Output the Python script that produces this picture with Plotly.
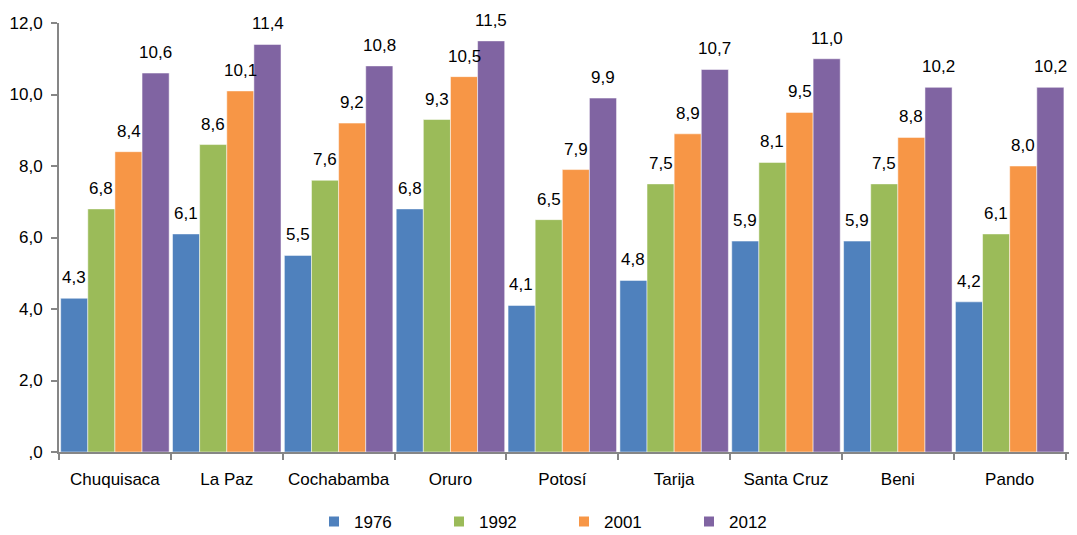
import plotly.graph_objects as go

departments = ["Chuquisaca", "La Paz", "Cochabamba", "Oruro", "Potosí", "Tarija", "Santa Cruz", "Beni", "Pando"]
v1976 = [4.3, 6.1, 5.5, 6.8, 4.1, 4.8, 5.9, 5.9, 4.2]
v1992 = [6.8, 8.6, 7.6, 9.3, 6.5, 7.5, 8.1, 7.5, 6.1]
v2001 = [8.4, 10.1, 9.2, 10.5, 7.9, 8.9, 9.5, 8.8, 8.0]
v2012 = [10.6, 11.4, 10.8, 11.5, 9.9, 10.7, 11.0, 10.2, 10.2]
years = ["1976", "1992", "2001", "2012"]
colors = ["#4F81BD", "#9BBB59", "#F79646", "#8064A2"]
ytickvals = [0, 2, 4, 6, 8, 10, 12]
yticktext = [",0", "2,0", "4,0", "6,0", "8,0", "10,0", "12,0"]

font = "Liberation Sans, Arial, sans-serif"
W, H = 1061, 527
ML, MR, MT, MB = 51, 0, 15, 83
BARGAP = 0.03
series = [v1976, v1992, v2001, v2012]

fig = go.Figure()
for name, vals, col in zip(years, series, colors):
    fig.add_trace(go.Bar(
        x=departments, y=vals, name=name,
        marker=dict(color=col, line=dict(color="white", width=0.5)),
        hoverinfo="x+y+name",
    ))

# value labels above each bar
plot_w = W - ML - MR
bar_px = plot_w / len(departments) * (1 - BARGAP) / len(series)
for i, vals in enumerate(series):
    off = (i - (len(series) - 1) / 2) * bar_px
    for d, v in zip(departments, vals):
        fig.add_annotation(x=d, y=v, text=f"{v:.1f}".replace(".", ","),
                           showarrow=False, xshift=off, yanchor="bottom", yshift=9,
                           font=dict(size=17, color="black", family=font))

fig.update_layout(
    width=W, height=H,
    barmode="group", bargap=BARGAP, bargroupgap=0,
    plot_bgcolor="white", paper_bgcolor="white",
    margin=dict(l=ML, r=MR, t=MT, b=MB, autoexpand=False),
    font=dict(family=font, size=17, color="black"),
    legend=dict(orientation="h", x=0.5, xanchor="center",
                yref="container", y=0.025, yanchor="middle",
                font=dict(size=17), entrywidth=80, itemsizing="constant"),
    showlegend=True,
)
fig.update_xaxes(showline=True, linecolor="#868686", linewidth=2,
                 ticks="outside", tickcolor="#868686", ticklen=6, tickwidth=2,
                 tickson="boundaries", tickfont=dict(size=17), showgrid=False,
                 automargin=False, ticklabelstandoff=11)
fig.update_yaxes(range=[0, 12], tickvals=ytickvals, ticktext=yticktext,
                 showline=True, linecolor="#868686", linewidth=2,
                 ticks="outside", tickcolor="#868686", ticklen=6, tickwidth=2,
                 showgrid=False, zeroline=False, tickfont=dict(size=17),
                 automargin=False, ticklabelstandoff=5)
fig.write_html("out.html")
